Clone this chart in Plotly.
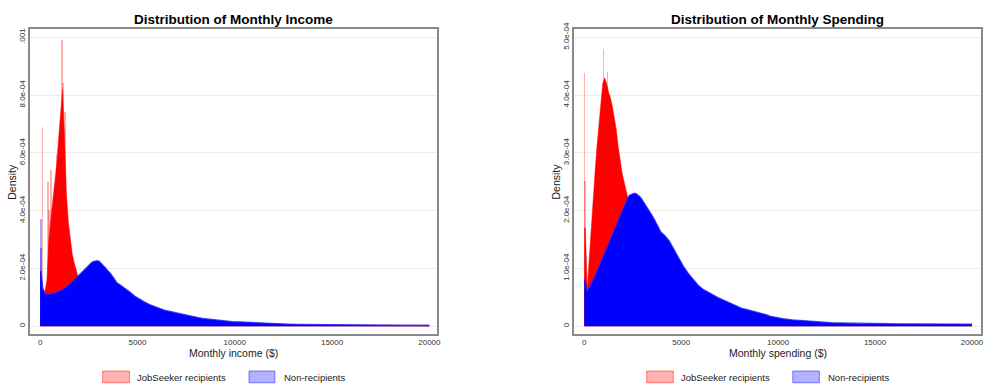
import plotly.graph_objects as go

W, H = 989, 388

# Histogram bins: 100-wide up to 4000, 250-wide up to 10000, 500-wide up to 20000
bin_edges = list(range(0, 4000, 100)) + list(range(4000, 10000, 250)) + list(range(10000, 20001, 500))

# Densities per bin, in units of 1e-4
income_jobseeker = [
    0.50, 1.30, 1.20, 1.60, 3.00, 3.70, 4.30, 5.00, 5.60, 6.50,
    7.40, 8.20, 6.60, 4.60, 3.60, 3.00, 2.50, 2.20, 1.90, 1.70,
    1.45, 1.25, 1.10, 0.95, 0.85, 0.75, 0.68, 0.62, 0.56, 0.51,
    0.47, 0.43, 0.40, 0.37, 0.34, 0.32, 0.30, 0.28, 0.26, 0.24,
    0.22, 0.20, 0.19, 0.17, 0.16, 0.15, 0.14, 0.13, 0.12, 0.11,
    0.10, 0.095, 0.09, 0.085, 0.08, 0.075, 0.07, 0.066, 0.062, 0.058,
    0.055, 0.052, 0.05, 0.048,
    0.045, 0.042, 0.04, 0.037, 0.035, 0.032, 0.03, 0.028, 0.026, 0.024,
    0.022, 0.02, 0.018, 0.017, 0.016, 0.015, 0.014, 0.013, 0.012, 0.012,
]
income_nonrecip = [
    1.90, 1.25, 1.12, 1.10, 1.10, 1.12, 1.13, 1.15, 1.17, 1.20,
    1.23, 1.27, 1.31, 1.36, 1.41, 1.47, 1.54, 1.60, 1.66, 1.73,
    1.80, 1.88, 1.96, 2.03, 2.10, 2.16, 2.21, 2.25, 2.27, 2.27,
    2.24, 2.18, 2.11, 2.03, 1.95, 1.88, 1.80, 1.70, 1.60, 1.50,
    1.43, 1.32, 1.18, 1.04, 0.93, 0.84, 0.75, 0.68, 0.62, 0.56,
    0.52, 0.48, 0.44, 0.40, 0.37, 0.33, 0.30, 0.27, 0.25, 0.22,
    0.20, 0.19, 0.18, 0.16,
    0.15, 0.13, 0.11, 0.095, 0.085, 0.075, 0.065, 0.06, 0.055, 0.05,
    0.048, 0.045, 0.043, 0.041, 0.04, 0.038, 0.037, 0.036, 0.035, 0.035,
]
spending_jobseeker = [
    1.70, 0.65, 1.20, 1.70, 2.20, 2.65, 3.10, 3.50, 3.95, 4.20,
    4.30, 4.20, 4.05, 3.95, 3.80, 3.60, 3.40, 3.10, 2.85, 2.65,
    2.50, 2.35, 2.20, 2.05, 1.90, 1.75, 1.62, 1.50, 1.38, 1.27,
    1.17, 1.08, 1.00, 0.92, 0.85, 0.78, 0.72, 0.66, 0.61, 0.56,
    0.52, 0.47, 0.42, 0.38, 0.34, 0.31, 0.28, 0.25, 0.23, 0.21,
    0.19, 0.17, 0.155, 0.14, 0.13, 0.12, 0.11, 0.10, 0.09, 0.085,
    0.08, 0.075, 0.07, 0.065,
    0.06, 0.055, 0.05, 0.045, 0.04, 0.036, 0.033, 0.03, 0.027, 0.025,
    0.023, 0.021, 0.019, 0.018, 0.017, 0.016, 0.015, 0.014, 0.013, 0.012,
]
spending_nonrecip = [
    0.80, 0.60, 0.66, 0.73, 0.80, 0.87, 0.95, 1.03, 1.11, 1.19,
    1.28, 1.36, 1.45, 1.53, 1.61, 1.69, 1.77, 1.85, 1.93, 2.01,
    2.09, 2.17, 2.23, 2.27, 2.29, 2.30, 2.30, 2.28, 2.25, 2.21,
    2.16, 2.11, 2.06, 2.01, 1.95, 1.89, 1.83, 1.76, 1.70, 1.63,
    1.58, 1.48, 1.33, 1.17, 1.03, 0.91, 0.81, 0.71, 0.64, 0.59,
    0.55, 0.50, 0.46, 0.42, 0.38, 0.34, 0.31, 0.29, 0.27, 0.25,
    0.23, 0.20, 0.17, 0.15,
    0.13, 0.11, 0.095, 0.08, 0.07, 0.06, 0.055, 0.05, 0.047, 0.045,
    0.043, 0.042, 0.041, 0.04, 0.039, 0.038, 0.037, 0.036, 0.035, 0.035,
]

# Single narrow bins that stand out above the bulk (x position, density in 1e-4)
income_jobseeker_spikes_x = [110, 380, 450, 550, 840, 1125, 1160, 1265]
income_jobseeker_spikes_d = [6.9, 5.0, 4.0, 5.4, 5.95, 9.9, 8.4, 7.4]
income_nonrecip_spikes_x = [25, 45]
income_nonrecip_spikes_d = [3.7, 2.7]
spending_jobseeker_spikes_x = [25, 60, 1010, 1210]
spending_jobseeker_spikes_d = [4.37, 2.5, 4.79, 4.39]
spending_nonrecip_spikes_x = [30]
spending_nonrecip_spikes_d = [0.85]

income_ticks = [0, 2e-4, 4e-4, 6e-4, 8e-4, 1e-3]
income_ticktext = ["0", "2.0e-04", "4.0e-04", "6.0e-04", "8.0e-04", ".001"]
spending_ticks = [0, 1e-4, 2e-4, 3e-4, 4e-4, 5e-4]
spending_ticktext = ["0", "1.0e-04", "2.0e-04", "3.0e-04", "4.0e-04", "5.0e-04"]
x_ticks = [0, 5000, 10000, 15000, 20000]
x_ticktext = ["0", "5000", "10000", "15000", "20000"]

FONT = "Liberation Sans, Arial, sans-serif"
RED = "rgb(255,0,0)"
BLUE = "rgb(0,0,255)"
RED_LIGHT = "rgba(255,0,0,0.3)"
BLUE_LIGHT = "rgba(0,0,255,0.3)"
SPIKE_W = 90

centers = [(a + b) / 2 for a, b in zip(bin_edges[:-1], bin_edges[1:])]


def scaled(vals):
    return [v * 1e-4 for v in vals]


def outline(vals):
    """Density outline through bin midpoints, closed at the first and last bin edges."""
    xs = [bin_edges[0]] + centers + [bin_edges[-1]]
    ys = scaled([vals[0]] + vals + [vals[-1]])
    return xs, ys


fig = go.Figure()


def add_panel(xa, ya, js, nr, js_sx, js_sd, nr_sx, nr_sd):
    fig.add_trace(go.Bar(x=js_sx, y=scaled(js_sd), width=[SPIKE_W] * len(js_sx),
                         marker=dict(color=RED_LIGHT, line=dict(width=0)),
                         xaxis=xa, yaxis=ya, showlegend=False, hoverinfo="skip"))
    xs, ys = outline(js)
    fig.add_trace(go.Scatter(x=xs, y=ys, mode="lines", fill="tozeroy", fillcolor=RED,
                             line=dict(color=RED, width=0.5),
                             xaxis=xa, yaxis=ya, showlegend=False, name="JobSeeker recipients"))
    fig.add_trace(go.Bar(x=nr_sx, y=scaled(nr_sd), width=[SPIKE_W] * len(nr_sx),
                         marker=dict(color="rgba(0,0,255,0.35)", line=dict(width=0)),
                         xaxis=xa, yaxis=ya, showlegend=False, hoverinfo="skip"))
    xs, ys = outline(nr)
    fig.add_trace(go.Scatter(x=xs, y=ys, mode="lines", fill="tozeroy", fillcolor=BLUE,
                             line=dict(color="rgba(40,40,255,0.8)", width=1.2),
                             xaxis=xa, yaxis=ya, showlegend=False, name="Non-recipients"))


add_panel("x", "y", income_jobseeker, income_nonrecip,
          income_jobseeker_spikes_x, income_jobseeker_spikes_d,
          income_nonrecip_spikes_x, income_nonrecip_spikes_d)
add_panel("x2", "y2", spending_jobseeker, spending_nonrecip,
          spending_jobseeker_spikes_x, spending_jobseeker_spikes_d,
          spending_nonrecip_spikes_x, spending_nonrecip_spikes_d)

frame = dict(showline=True, mirror=True, linecolor="#8a8a8a", linewidth=1.5,
             zeroline=False, ticks="", tickfont=dict(family=FONT, size=8, color="#333"))

ydom = [1 - 333 / H, 1 - 22.7 / H]
fig.update_layout(
    width=W, height=H,
    margin=dict(l=0, r=0, t=0, b=0),
    paper_bgcolor="white", plot_bgcolor="white",
    barmode="overlay", bargap=0,
    font=dict(family=FONT, color="#222"),
    xaxis=dict(domain=[30 / W, 439 / W], range=[-527, 20404], tickvals=x_ticks,
               ticktext=x_ticktext, showgrid=False, **frame),
    yaxis=dict(domain=ydom, range=[-2.7e-5, 1.028e-3], tickvals=income_ticks,
               ticktext=income_ticktext, tickangle=-90, showgrid=True,
               gridcolor="#ececec", gridwidth=1, **frame),
    xaxis2=dict(domain=[576.7 / W, 985 / W], range=[-514, 20468], tickvals=x_ticks,
                ticktext=x_ticktext, showgrid=False, anchor="y2", **frame),
    yaxis2=dict(domain=ydom, range=[-1.36e-5, 5.14e-4], tickvals=spending_ticks,
                ticktext=spending_ticktext, tickangle=-90, showgrid=True,
                gridcolor="#ececec", gridwidth=1, anchor="x2", **frame),
)

annotations = []


def text_at(px, py, txt, size, bold=False, angle=0, xanchor="center"):
    annotations.append(dict(
        x=px / W, y=1 - py / H, xref="paper", yref="paper", showarrow=False,
        text=f"<b>{txt}</b>" if bold else txt, textangle=angle,
        xanchor=xanchor, yanchor="middle",
        font=dict(family=FONT, size=size, color="black" if bold else "#222"),
    ))


text_at(234.5, 12.5, "Distribution of Monthly Income", 13.5, bold=True)
text_at(780.8, 12.5, "Distribution of Monthly Spending", 13.5, bold=True)
text_at(234.7, 352, "Monthly income ($)", 10.5)
text_at(780.7, 352, "Monthly spending ($)", 10.5)
text_at(12, 178, "Density", 10.5, angle=-90)
text_at(558, 178, "Density", 10.5, angle=-90)

# Legend keys below each panel
shapes = []


def legend_key(x0, x1, fill, edge, label, tx):
    shapes.append(dict(type="rect", xref="paper", yref="paper",
                       x0=x0 / W, x1=x1 / W, y0=1 - 382.7 / H, y1=1 - 370.7 / H,
                       fillcolor=fill, line=dict(color=edge, width=1)))
    text_at(tx, 377, label, 9.5, xanchor="left")


legend_key(103, 130, RED_LIGHT, "rgba(255,0,0,0.45)", "JobSeeker recipients", 136)
legend_key(250, 276, BLUE_LIGHT, "rgba(0,0,255,0.45)", "Non-recipients", 283)
legend_key(649.3, 676, RED_LIGHT, "rgba(255,0,0,0.45)", "JobSeeker recipients", 682)
legend_key(796, 822.7, BLUE_LIGHT, "rgba(0,0,255,0.45)", "Non-recipients", 829)

fig.update_layout(annotations=annotations, shapes=shapes)

fig.write_html("out.html")
